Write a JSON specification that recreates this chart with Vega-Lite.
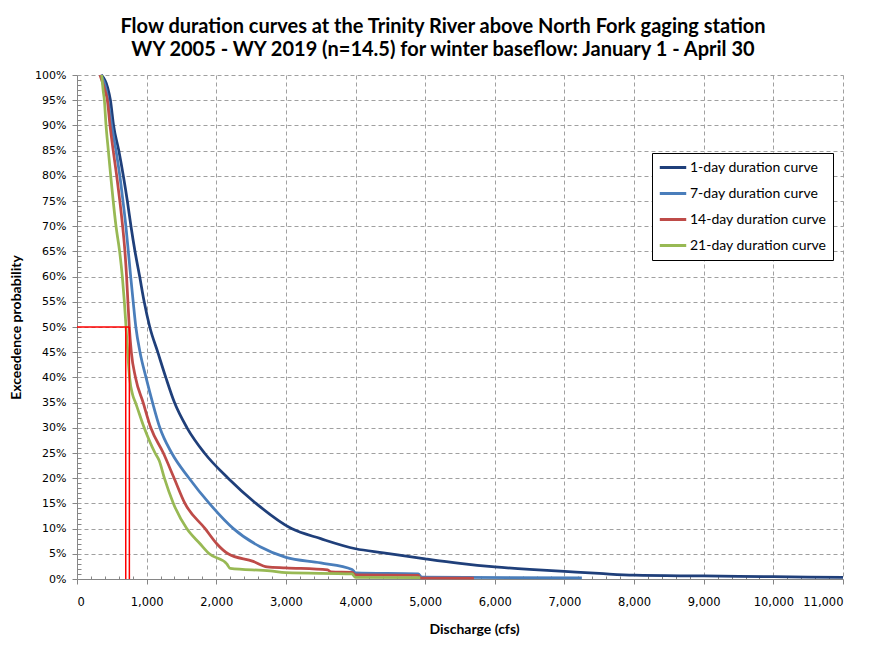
{
  "$schema": "https://vega.github.io/schema/vega-lite/v6.json",
  "width": 766,
  "height": 504,
  "autosize": {"type": "none"},
  "padding": {"left": 77, "top": 75, "right": 42, "bottom": 69},
  "background": "#ffffff",
  "title": {
    "text": ["Flow duration curves at the Trinity River above North Fork gaging station", "WY 2005 - WY 2019 (n=14.5) for winter baseflow: January 1 - April 30"],
    "font": "Lato",
    "fontSize": 20,
    "fontWeight": "bold",
    "color": "#000000",
    "anchor": "middle",
    "frame": "group",
    "dx": -17,
    "lineHeight": 23,
    "offset": 9
  },
  "datasets": {
    "curves": [
      {"series": "1-day duration curve", "q": 350, "p": 100},
      {"series": "1-day duration curve", "q": 440, "p": 97.5},
      {"series": "1-day duration curve", "q": 480, "p": 95},
      {"series": "1-day duration curve", "q": 525, "p": 90},
      {"series": "1-day duration curve", "q": 600, "p": 85},
      {"series": "1-day duration curve", "q": 665, "p": 80},
      {"series": "1-day duration curve", "q": 723, "p": 75},
      {"series": "1-day duration curve", "q": 775, "p": 70},
      {"series": "1-day duration curve", "q": 833, "p": 65},
      {"series": "1-day duration curve", "q": 900, "p": 60},
      {"series": "1-day duration curve", "q": 965, "p": 55},
      {"series": "1-day duration curve", "q": 1045, "p": 50},
      {"series": "1-day duration curve", "q": 1160, "p": 45},
      {"series": "1-day duration curve", "q": 1275, "p": 40},
      {"series": "1-day duration curve", "q": 1400, "p": 35},
      {"series": "1-day duration curve", "q": 1580, "p": 30},
      {"series": "1-day duration curve", "q": 1830, "p": 25},
      {"series": "1-day duration curve", "q": 2170, "p": 20},
      {"series": "1-day duration curve", "q": 2570, "p": 15},
      {"series": "1-day duration curve", "q": 3080, "p": 10},
      {"series": "1-day duration curve", "q": 3500, "p": 8},
      {"series": "1-day duration curve", "q": 4000, "p": 6},
      {"series": "1-day duration curve", "q": 4400, "p": 5.2},
      {"series": "1-day duration curve", "q": 5000, "p": 4},
      {"series": "1-day duration curve", "q": 5500, "p": 3.1},
      {"series": "1-day duration curve", "q": 6000, "p": 2.4},
      {"series": "1-day duration curve", "q": 6500, "p": 1.9},
      {"series": "1-day duration curve", "q": 7000, "p": 1.5},
      {"series": "1-day duration curve", "q": 7500, "p": 1.1},
      {"series": "1-day duration curve", "q": 8000, "p": 0.75},
      {"series": "1-day duration curve", "q": 9000, "p": 0.6},
      {"series": "1-day duration curve", "q": 10000, "p": 0.45},
      {"series": "1-day duration curve", "q": 11000, "p": 0.3},
      {"series": "7-day duration curve", "q": 340, "p": 100},
      {"series": "7-day duration curve", "q": 420, "p": 97},
      {"series": "7-day duration curve", "q": 445, "p": 95},
      {"series": "7-day duration curve", "q": 498, "p": 90},
      {"series": "7-day duration curve", "q": 560, "p": 85},
      {"series": "7-day duration curve", "q": 615, "p": 80},
      {"series": "7-day duration curve", "q": 660, "p": 75},
      {"series": "7-day duration curve", "q": 702, "p": 70},
      {"series": "7-day duration curve", "q": 737, "p": 65},
      {"series": "7-day duration curve", "q": 771, "p": 60},
      {"series": "7-day duration curve", "q": 807, "p": 55},
      {"series": "7-day duration curve", "q": 845, "p": 50},
      {"series": "7-day duration curve", "q": 905, "p": 45},
      {"series": "7-day duration curve", "q": 991, "p": 40},
      {"series": "7-day duration curve", "q": 1085, "p": 35},
      {"series": "7-day duration curve", "q": 1190, "p": 30},
      {"series": "7-day duration curve", "q": 1360, "p": 25},
      {"series": "7-day duration curve", "q": 1610, "p": 20},
      {"series": "7-day duration curve", "q": 1900, "p": 15},
      {"series": "7-day duration curve", "q": 2246, "p": 10},
      {"series": "7-day duration curve", "q": 2630, "p": 6.4},
      {"series": "7-day duration curve", "q": 3000, "p": 4.3},
      {"series": "7-day duration curve", "q": 3500, "p": 3.2},
      {"series": "7-day duration curve", "q": 3950, "p": 1.9},
      {"series": "7-day duration curve", "q": 4000, "p": 1.2},
      {"series": "7-day duration curve", "q": 4900, "p": 1.0},
      {"series": "7-day duration curve", "q": 4950, "p": 0.35},
      {"series": "7-day duration curve", "q": 7250, "p": 0.2},
      {"series": "14-day duration curve", "q": 330, "p": 100},
      {"series": "14-day duration curve", "q": 400, "p": 97},
      {"series": "14-day duration curve", "q": 436, "p": 95},
      {"series": "14-day duration curve", "q": 474, "p": 90},
      {"series": "14-day duration curve", "q": 520, "p": 85},
      {"series": "14-day duration curve", "q": 570, "p": 80},
      {"series": "14-day duration curve", "q": 615, "p": 75},
      {"series": "14-day duration curve", "q": 655, "p": 70},
      {"series": "14-day duration curve", "q": 688, "p": 65},
      {"series": "14-day duration curve", "q": 712, "p": 60},
      {"series": "14-day duration curve", "q": 731, "p": 55},
      {"series": "14-day duration curve", "q": 751, "p": 50},
      {"series": "14-day duration curve", "q": 780, "p": 45},
      {"series": "14-day duration curve", "q": 840, "p": 40},
      {"series": "14-day duration curve", "q": 950, "p": 35},
      {"series": "14-day duration curve", "q": 1060, "p": 30},
      {"series": "14-day duration curve", "q": 1240, "p": 25},
      {"series": "14-day duration curve", "q": 1395, "p": 20},
      {"series": "14-day duration curve", "q": 1550, "p": 15},
      {"series": "14-day duration curve", "q": 1840, "p": 10},
      {"series": "14-day duration curve", "q": 2007, "p": 7},
      {"series": "14-day duration curve", "q": 2170, "p": 5},
      {"series": "14-day duration curve", "q": 2530, "p": 3.5},
      {"series": "14-day duration curve", "q": 2730, "p": 2.4},
      {"series": "14-day duration curve", "q": 3000, "p": 2.2},
      {"series": "14-day duration curve", "q": 3600, "p": 1.8},
      {"series": "14-day duration curve", "q": 3650, "p": 1.4},
      {"series": "14-day duration curve", "q": 3950, "p": 1.3},
      {"series": "14-day duration curve", "q": 4000, "p": 0.8},
      {"series": "14-day duration curve", "q": 4900, "p": 0.7},
      {"series": "14-day duration curve", "q": 4930, "p": 0.2},
      {"series": "14-day duration curve", "q": 5700, "p": 0.15},
      {"series": "21-day duration curve", "q": 355, "p": 100},
      {"series": "21-day duration curve", "q": 375, "p": 97},
      {"series": "21-day duration curve", "q": 393, "p": 95},
      {"series": "21-day duration curve", "q": 417, "p": 90},
      {"series": "21-day duration curve", "q": 450, "p": 85},
      {"series": "21-day duration curve", "q": 484, "p": 80},
      {"series": "21-day duration curve", "q": 520, "p": 75},
      {"series": "21-day duration curve", "q": 560, "p": 70},
      {"series": "21-day duration curve", "q": 612, "p": 65},
      {"series": "21-day duration curve", "q": 651, "p": 60},
      {"series": "21-day duration curve", "q": 680, "p": 55},
      {"series": "21-day duration curve", "q": 704, "p": 50},
      {"series": "21-day duration curve", "q": 728, "p": 45},
      {"series": "21-day duration curve", "q": 755, "p": 40},
      {"series": "21-day duration curve", "q": 800, "p": 36.5},
      {"series": "21-day duration curve", "q": 840, "p": 35},
      {"series": "21-day duration curve", "q": 965, "p": 30},
      {"series": "21-day duration curve", "q": 1121, "p": 25},
      {"series": "21-day duration curve", "q": 1180, "p": 23.5},
      {"series": "21-day duration curve", "q": 1255, "p": 20},
      {"series": "21-day duration curve", "q": 1384, "p": 15},
      {"series": "21-day duration curve", "q": 1576, "p": 10},
      {"series": "21-day duration curve", "q": 1767, "p": 7},
      {"series": "21-day duration curve", "q": 1900, "p": 5},
      {"series": "21-day duration curve", "q": 2151, "p": 3},
      {"series": "21-day duration curve", "q": 2200, "p": 2.1},
      {"series": "21-day duration curve", "q": 2773, "p": 1.6},
      {"series": "21-day duration curve", "q": 3000, "p": 1.25},
      {"series": "21-day duration curve", "q": 3950, "p": 1.0},
      {"series": "21-day duration curve", "q": 4000, "p": 0.3},
      {"series": "21-day duration curve", "q": 4930, "p": 0.25}
    ],
    "median": [
      {"q": 0, "q2": 752, "p": 50, "p2": 50},
      {"q": 700, "q2": 700, "p": 0, "p2": 50},
      {"q": 752, "q2": 752, "p": 0, "p2": 50}
    ]
  },
  "layer": [
    {
      "data": {"name": "curves"},
      "mark": {"type": "line", "strokeWidth": 2.75, "interpolate": "monotone"},
      "encoding": {
        "x": {
          "field": "q", "type": "quantitative",
          "scale": {"domain": [0, 11000], "nice": false, "zero": false},
          "axis": {
            "title": "Discharge (cfs)",
            "values": [0,200,400,600,800,1000,1200,1400,1600,1800,2000,2200,2400,2600,2800,3000,3200,3400,3600,3800,4000,4200,4400,4600,4800,5000,5200,5400,5600,5800,6000,6200,6400,6600,6800,7000,7200,7400,7600,7800,8000,8200,8400,8600,8800,9000,9200,9400,9600,9800,10000,10200,10400,10600,10800,11000],
            "tickCount": 200,
            "labelOverlap": false,
            "labelExpr": "datum.value % 1000 === 0 ? format(datum.value, ',') : ''",
            "gridOpacity": {"condition": {"test": "datum.value % 1000 === 0 && datum.value > 0", "value": 1}, "value": 0},
            "tickSize": {"condition": {"test": "datum.value % 1000 === 0", "value": 5}, "value": -3},
            "labelPadding": 12,
            "titlePadding": 15,
            "titleX": 397
          }
        },
        "y": {
          "field": "p", "type": "quantitative",
          "scale": {"domain": [0, 100], "nice": false},
          "axis": {
            "title": "Exceedence probability",
            "values": [0,1,2,3,4,5,6,7,8,9,10,11,12,13,14,15,16,17,18,19,20,21,22,23,24,25,26,27,28,29,30,31,32,33,34,35,36,37,38,39,40,41,42,43,44,45,46,47,48,49,50,51,52,53,54,55,56,57,58,59,60,61,62,63,64,65,66,67,68,69,70,71,72,73,74,75,76,77,78,79,80,81,82,83,84,85,86,87,88,89,90,91,92,93,94,95,96,97,98,99,100],
            "tickCount": 300,
            "labelOverlap": false,
            "labelExpr": "datum.value % 5 === 0 ? datum.value + '%' : ''",
            "labelFontSize": 11,
            "gridOpacity": {"condition": {"test": "datum.value % 5 === 0 && datum.value > 0", "value": 1}, "value": 0},
            "tickSize": {"condition": {"test": "datum.value % 5 === 0", "value": 5}, "value": -4},
            "labelPadding": 6,
            "titlePadding": 11
          }
        },
        "color": {
          "field": "series", "type": "nominal",
          "scale": {
            "domain": ["1-day duration curve", "7-day duration curve", "14-day duration curve", "21-day duration curve"],
            "range": ["#1f3f7a", "#4a7ebb", "#be4b48", "#98b954"]
          },
          "legend": {
            "title": null,
            "orient": "none",
            "legendX": 575,
            "legendY": 78,
            "symbolType": "stroke",
            "symbolStrokeWidth": 3,
            "symbolSize": 700,
            "labelFont": "Lato",
            "labelFontSize": 14,
            "labelColor": "#000000",
            "labelOffset": 2,
            "rowPadding": 9,
            "clipHeight": 17,
            "padding": 6,
            "fillColor": "#ffffff",
            "strokeColor": "#000000"
          }
        },
        "order": {"field": "p", "sort": "descending"}
      }
    },
    {
      "data": {"name": "median"},
      "mark": {"type": "rule", "color": "#ff0000", "strokeWidth": 1.5},
      "encoding": {
        "x": {"field": "q", "type": "quantitative"},
        "x2": {"field": "q2"},
        "y": {"field": "p", "type": "quantitative"},
        "y2": {"field": "p2"}
      }
    }
  ],
  "config": {
    "view": {"stroke": null},
    "axis": {
      "labelFont": "DejaVu Sans",
      "labelFontSize": 11.5,
      "labelColor": "#000000",
      "titleFont": "Lato",
      "titleFontSize": 14,
      "titleFontWeight": "bold",
      "titleColor": "#000000",
      "domainColor": "#868686",
      "tickColor": "#868686",
      "gridColor": "#a0a0a0",
      "gridDash": [4, 3],
      "gridWidth": 1
    }
  }
}
